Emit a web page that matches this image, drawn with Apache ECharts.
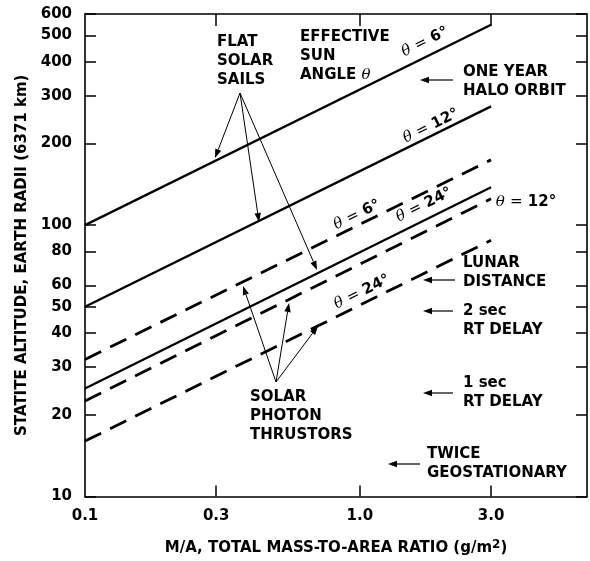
<!DOCTYPE html>
<html><head><meta charset="utf-8">
<script src="https://cdn.jsdelivr.net/npm/echarts@6/dist/echarts.min.js"></script>
<style>html,body{margin:0;padding:0;background:#fff}#c{width:590px;height:561px}</style>
</head><body><div id="c"></div>
<script>
// ---- data ----
const xEnds = [0.1, 3.0];
const sail6 = [100, 548];
const sail12 = [50, 274];
const sail24 = [25, 138];
const photon6 = [32, 174];
const photon12 = [22.5, 125];
const photon24 = [16, 88];
const yTicks = [10, 20, 30, 40, 50, 60, 80, 100, 200, 300, 400, 500, 600];
const xTickLabels = [0.1, 0.3, 1.0, 3.0];
const xInnerTicks = [0.3, 1.0, 3.0];

const FONT = 'DejaVu Sans';
const chart = echarts.init(document.getElementById('c'), null, {renderer: 'canvas'});

function mk(name, ys, dashed) {
  return {
    name: name, type: 'line', xAxisIndex: 0, yAxisIndex: 0,
    data: xEnds.map((x, i) => [x, ys[i]]),
    symbol: 'none', silent: true, animation: false,
    lineStyle: {color: '#000', width: dashed ? 2.8 : 2.3, type: dashed ? [18, 10] : 'solid', cap: 'butt'}
  };
}

const axisLine = {show: true, lineStyle: {color: '#000', width: 1.6}};
const option = {
  animation: false,
  backgroundColor: '#fff',
  grid: {left: 85, right: 3, top: 14, bottom: 63},
  xAxis: [
    {type: 'log', min: 0.1, max: 6.7, logBase: 10, position: 'bottom',
     axisLine: axisLine, splitLine: {show: false}, minorTick: {show: false},
     axisTick: {show: true, inside: true, length: 11, customValues: xInnerTicks, lineStyle: {color: '#000', width: 1.5}},
     axisLabel: {customValues: xTickLabels, margin: 12, color: '#000', fontFamily: FONT, fontWeight: 'bold', fontSize: 15,
                 formatter: v => Number(v).toFixed(1)},
     name: 'M/A, TOTAL MASS-TO-AREA RATIO (g/m{sup|2})', nameLocation: 'middle', nameGap: 42,
     nameTextStyle: {color: '#000', fontFamily: FONT, fontWeight: 'bold', fontSize: 15,
       rich: {sup: {fontFamily: FONT, fontWeight: 'bold', fontSize: 12, padding: [0, 0, 8, 0], color: '#000'}}}},
    {type: 'log', min: 0.1, max: 6.7, logBase: 10, position: 'top',
     axisLine: axisLine, splitLine: {show: false},
     axisTick: {show: true, inside: true, length: 12, customValues: xInnerTicks, lineStyle: {color: '#000', width: 1.5}},
     axisLabel: {show: false}}
  ],
  yAxis: [
    {type: 'log', min: 10, max: 600, logBase: 10, position: 'left',
     axisLine: axisLine, splitLine: {show: false},
     axisTick: {show: true, inside: true, length: 11, customValues: yTicks, lineStyle: {color: '#000', width: 1.5}},
     axisLabel: {customValues: yTicks, margin: 13, color: '#000', fontFamily: FONT, fontWeight: 'bold', fontSize: 15},
     name: 'STATITE ALTITUDE, EARTH RADII (6371 km)', nameLocation: 'middle', nameGap: 46,
     nameTextStyle: {color: '#000', fontFamily: FONT, fontWeight: 'bold', fontSize: 15}},
    {type: 'log', min: 10, max: 600, logBase: 10, position: 'right',
     axisLine: axisLine, splitLine: {show: false},
     axisTick: {show: true, inside: true, length: 11, customValues: yTicks, lineStyle: {color: '#000', width: 1.5}},
     axisLabel: {show: false}}
  ],
  series: [
    mk('sail6', sail6, false), mk('sail12', sail12, false), mk('sail24', sail24, false),
    mk('photon6', photon6, true), mk('photon12', photon12, true), mk('photon24', photon24, true)
  ]
};
chart.setOption(option);

// ---- annotations ----
const g = [];
function txt(x, y, s, opt) {
  g.push(Object.assign({type: 'text', x: x, y: y, silent: true,
    style: Object.assign({text: s, fill: '#000', font: 'bold 15px "DejaVu Sans"', textAlign: 'left', textVerticalAlign: 'middle', lineHeight: 19}, opt || {})}));
}
function arrow(x1, y1, x2, y2, w) {
  w = w || 1.2;
  const a = Math.atan2(y2 - y1, x2 - x1), L = 9, W = 3.2;
  const bx = x2 - L * Math.cos(a), by = y2 - L * Math.sin(a);
  g.push({type: 'line', silent: true, shape: {x1: x1, y1: y1, x2: bx, y2: by}, style: {stroke: '#000', lineWidth: w}});
  g.push({type: 'polygon', silent: true, shape: {points: [[x2, y2],
    [bx + W * Math.sin(a), by - W * Math.cos(a)], [bx - W * Math.sin(a), by + W * Math.cos(a)]]}, style: {fill: '#000'}});
}
function theta(cx, cy, deg, rot) {
  g.push({type: 'text', x: cx, y: cy, rotation: rot * Math.PI / 180, silent: true,
    style: {text: '{t|θ} {e|=} ' + deg + '°', textAlign: 'center', textVerticalAlign: 'middle', fill: '#000',
      rich: {t: {font: 'italic 15px "DejaVu Serif"', fill: '#000'}, e: {font: '15px "DejaVu Sans"', fill: '#000'}},
      font: 'bold 15px "DejaVu Sans"'}});
}
const R = 26.3;
theta(425, 42, '6', R);
theta(431, 126, '12', R);
theta(357, 215, '6', R);
theta(424, 205, '24', R);
theta(362, 292, '24', R);
theta(526, 202, '12', 0);

txt(217, 42, 'FLAT\nSOLAR\nSAILS', {textVerticalAlign: 'top', y: 0});
g[g.length - 1].y = 33;
txt(300, 28, 'EFFECTIVE\nSUN\nANGLE {t|θ}', {textVerticalAlign: 'top', rich: {t: {font: 'italic 15px "DejaVu Serif"', fill: '#000'}}});
txt(463, 72, 'ONE YEAR\nHALO ORBIT', {textVerticalAlign: 'top'}); g[g.length - 1].y = 63;
txt(463, 254, 'LUNAR\nDISTANCE', {textVerticalAlign: 'top'});
txt(463, 302, '2 sec\nRT DELAY', {textVerticalAlign: 'top'});
txt(463, 374, '1 sec\nRT DELAY', {textVerticalAlign: 'top'});
txt(427, 445, 'TWICE\nGEOSTATIONARY', {textVerticalAlign: 'top'});
txt(250, 388, 'SOLAR\nPHOTON\nTHRUSTORS', {textVerticalAlign: 'top'});

arrow(453, 80, 420, 80);
arrow(455, 280, 423, 280);
arrow(453, 311, 423, 311);
arrow(453, 393, 423, 393);
arrow(420, 464, 388, 464);

arrow(240, 93, 215, 158, 1);
arrow(240, 93, 259, 222, 1);
arrow(240, 93, 317, 270, 1);
arrow(276, 382, 243, 286, 1);
arrow(276, 382, 289, 303, 1);
arrow(276, 382, 318, 326, 1);

chart.setOption({graphic: g});
</script></body></html>
